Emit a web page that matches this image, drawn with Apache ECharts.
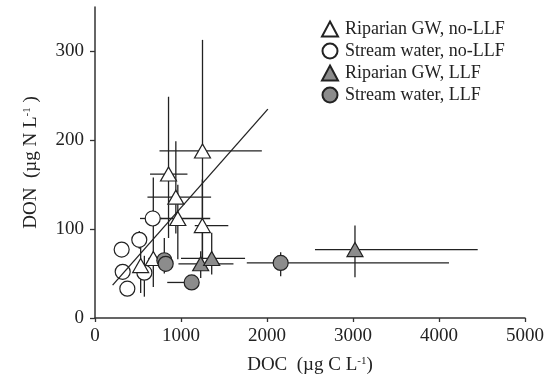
<!DOCTYPE html>
<html>
<head>
<meta charset="utf-8">
<script src="https://cdn.jsdelivr.net/npm/echarts@6/dist/echarts.min.js"></script>
<style>
  html, body { margin: 0; padding: 0; background: #fff; }
  #chart { width: 548px; height: 384px; }
</style>
</head>
<body>
<div id="chart"></div>
<script>
// Riparian GW, no-LLF (open triangles)
const ripNoX    = [1250, 855, 940, 963, 1248, 678, 531];
const ripNoY    = [188, 162, 136, 112, 104, 67, 59];
const ripNoXLo  = [750, 640, 610, 740, 1160, 620, 480];
const ripNoXHi  = [1940, 1075, 1350, 1340, 1550, 740, 590];
const ripNoYLo  = [65, 90, 95, 66, 58, 35, 28];
const ripNoYHi  = [313, 249, 199, 150, 156, 158, 82];

// Stream water, no-LLF (open circles)
const strNoX    = [671, 515, 310, 322, 376, 574];
const strNoY    = [112, 88, 77, 52, 33, 51];
const strNoXLo  = [523, 480, 310, 322, 376, 574];
const strNoXHi  = [775, 550, 310, 322, 376, 574];
const strNoYLo  = [104, 78, 77, 52, 28, 24];
const strNoYHi  = [121, 98, 77, 52, 38, 70];

// Riparian GW, LLF (grey triangles)
const ripLlfX   = [1229, 1357, 3023];
const ripLlfY   = [61, 67, 77];
const ripLlfXLo = [970, 1000, 2558];
const ripLlfXHi = [1610, 1745, 4450];
const ripLlfYLo = [45, 49, 46];
const ripLlfYHi = [75, 96, 104];

// Stream water, LLF (grey circles)
const strLlfX   = [806, 822, 1124, 2159];
const strLlfY   = [65, 61, 40, 62];
const strLlfXLo = [806, 822, 840, 1765];
const strLlfXHi = [806, 822, 1124, 4116];
const strLlfYLo = [50, 54, 40, 47];
const strLlfYHi = [90, 70, 40, 74];

// regression line end points
const fitX = [205, 2010];
const fitY = [37, 235];

const xTicks = [0, 1000, 2000, 3000, 4000, 5000];
const yTicks = [0, 100, 200, 300];

const FONT = 'Liberation Serif';
const INK = '#222';
const GREY = '#8c8c8c';

function pairs(xs, ys) { return xs.map((x, i) => [x, ys[i]]); }

function errorBars(name, xs, ys, xlo, xhi, ylo, yhi) {
  return {
    name: name,
    type: 'custom',
    z: 1,
    silent: true,
    data: pairs(xs, ys),
    renderItem: function (params, api) {
      const i = params.dataIndex;
      const kids = [];
      const st = { stroke: INK, lineWidth: 1.3 };
      if (xlo[i] !== xhi[i]) {
        const a = api.coord([xlo[i], ys[i]]);
        const b = api.coord([xhi[i], ys[i]]);
        kids.push({ type: 'line', shape: { x1: a[0], y1: a[1], x2: b[0], y2: b[1] }, style: st });
      }
      if (ylo[i] !== yhi[i]) {
        const a = api.coord([xs[i], ylo[i]]);
        const b = api.coord([xs[i], yhi[i]]);
        kids.push({ type: 'line', shape: { x1: a[0], y1: a[1], x2: b[0], y2: b[1] }, style: st });
      }
      return { type: 'group', children: kids };
    }
  };
}

function markers(name, xs, ys, symbol, size, fill) {
  return {
    name: name,
    type: 'scatter',
    z: 3,
    symbol: symbol,
    symbolSize: size,
    data: pairs(xs, ys),
    itemStyle: { color: fill, borderColor: INK, borderWidth: 1.2, opacity: 1 }
  };
}

const names = ['Riparian GW, no-LLF', 'Stream water, no-LLF', 'Riparian GW, LLF', 'Stream water, LLF'];

const chart = echarts.init(document.getElementById('chart'), null, { renderer: 'canvas' });
chart.setOption({
  animation: false,
  backgroundColor: '#fff',
  grid: { left: 95, right: 23, top: 7, bottom: 66 },
  legend: {
    data: names,
    orient: 'vertical',
    left: 316,
    top: 15,
    itemWidth: 16,
    itemHeight: 15,
    itemGap: 4,
    textStyle: { fontFamily: FONT, fontSize: 18, color: INK, padding: [0, 0, 0, 2] }
  },
  xAxis: {
    type: 'value',
    min: 0,
    max: 5000,
    interval: 1000,
    name: 'DOC  (\u00b5g C L{sup|-1})',
    nameLocation: 'middle',
    nameGap: 38,
    nameTextStyle: {
      fontFamily: FONT, fontSize: 19, color: INK,
      rich: { sup: { fontFamily: FONT, fontSize: 11, color: INK, verticalAlign: 'top', padding: [0, 0, 8, 0] } }
    },
    axisLine: { lineStyle: { color: '#333', width: 1.5 } },
    axisTick: { length: 4, lineStyle: { color: '#333', width: 1.3 }, customValues: xTicks },
    axisLabel: { fontFamily: FONT, fontSize: 19, color: INK, margin: 9, customValues: xTicks, formatter: v => String(v) },
    splitLine: { show: false }
  },
  yAxis: {
    type: 'value',
    min: 0,
    max: 350,
    interval: 100,
    name: 'DON  (\u00b5g N L{sup|-1} )',
    nameLocation: 'middle',
    nameGap: 54,
    nameTextStyle: {
      fontFamily: FONT, fontSize: 19, color: INK,
      rich: { sup: { fontFamily: FONT, fontSize: 11, color: INK, verticalAlign: 'top', padding: [0, 0, 8, 0] } }
    },
    axisLine: { show: true, lineStyle: { color: '#333', width: 1.5 } },
    axisTick: { show: true, length: 5, lineStyle: { color: '#333', width: 1.3 }, customValues: yTicks },
    axisLabel: { fontFamily: FONT, fontSize: 19, color: INK, margin: 11, customValues: yTicks, formatter: v => String(v) },
    splitLine: { show: false }
  },
  series: [
    errorBars('eb0', ripNoX, ripNoY, ripNoXLo, ripNoXHi, ripNoYLo, ripNoYHi),
    errorBars('eb1', strNoX, strNoY, strNoXLo, strNoXHi, strNoYLo, strNoYHi),
    errorBars('eb2', ripLlfX, ripLlfY, ripLlfXLo, ripLlfXHi, ripLlfYLo, ripLlfYHi),
    errorBars('eb3', strLlfX, strLlfY, strLlfXLo, strLlfXHi, strLlfYLo, strLlfYHi),
    markers(names[1], strNoX, strNoY, 'circle', 15, '#fff'),
    markers(names[0], ripNoX, ripNoY, 'triangle', [16, 14], '#fff'),
    markers(names[3], strLlfX, strLlfY, 'circle', 15, GREY),
    markers(names[2], ripLlfX, ripLlfY, 'triangle', [16, 14], GREY),
    {
      name: 'fit',
      type: 'line',
      z: 4,
      silent: true,
      symbol: 'none',
      data: pairs(fitX, fitY),
      lineStyle: { color: INK, width: 1.3 }
    }
  ]
});
</script>
</body>
</html>
